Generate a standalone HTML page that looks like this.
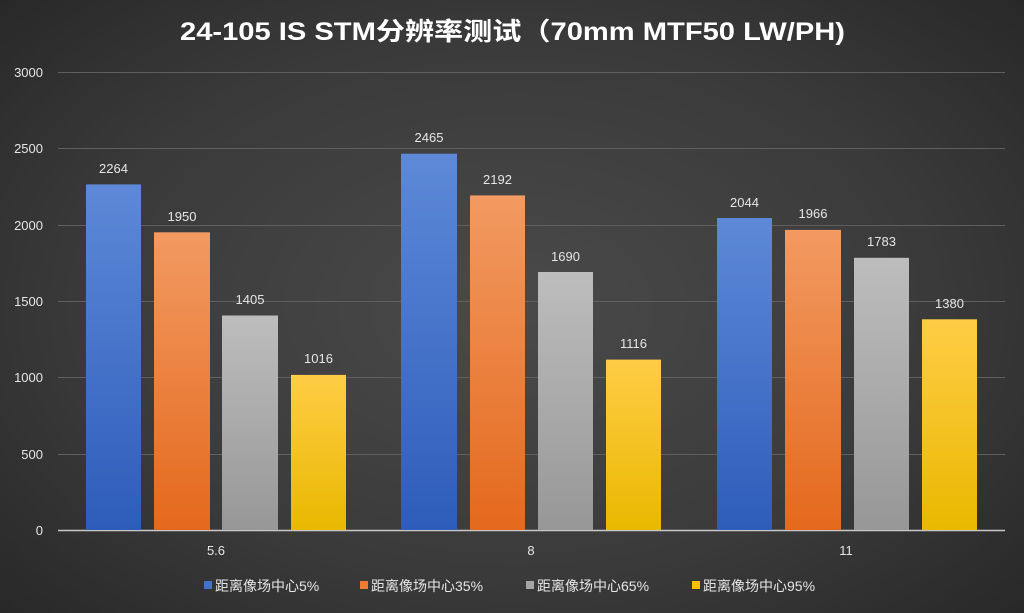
<!DOCTYPE html>
<html><head><meta charset="utf-8"><style>
html,body{margin:0;padding:0}
body{width:1024px;height:613px;overflow:hidden;background:radial-gradient(ellipse 75% 80% at 50% 50%,#4a4a4a 0%,#3a3a3a 55%,#242424 100%);font-family:"Liberation Sans","Noto Sans CJK SC",sans-serif;position:relative}
</style></head><body>
<svg width="1024" height="613" style="position:absolute;left:0;top:0" font-family="Liberation Sans, Noto Sans CJK SC, sans-serif">
<defs>
<linearGradient id="gb" x1="0" y1="0" x2="0" y2="1"><stop offset="0" stop-color="#5e89d8"/><stop offset="1" stop-color="#2e5cba"/></linearGradient>
<linearGradient id="go" x1="0" y1="0" x2="0" y2="1"><stop offset="0" stop-color="#f29a62"/><stop offset="1" stop-color="#e4691d"/></linearGradient>
<linearGradient id="gg" x1="0" y1="0" x2="0" y2="1"><stop offset="0" stop-color="#bdbdbd"/><stop offset="1" stop-color="#979797"/></linearGradient>
<linearGradient id="gy" x1="0" y1="0" x2="0" y2="1"><stop offset="0" stop-color="#ffcd45"/><stop offset="1" stop-color="#e9b800"/></linearGradient>
</defs>
<text x="180" y="40" textLength="665" lengthAdjust="spacingAndGlyphs" font-size="25" font-weight="bold" fill="#fff">24-105 IS STM分辨率测试（70mm MTF50 LW/PH)</text>
<g stroke="#5f5f5f" stroke-width="1">
<line x1="58" x2="1005" y1="72.5" y2="72.5"/><line x1="58" x2="1005" y1="148.5" y2="148.5"/><line x1="58" x2="1005" y1="225.5" y2="225.5"/><line x1="58" x2="1005" y1="301.5" y2="301.5"/><line x1="58" x2="1005" y1="377.5" y2="377.5"/><line x1="58" x2="1005" y1="454.5" y2="454.5"/>
</g>
<g fill="#e6e6e6" font-size="13" text-anchor="end">
<text x="43" y="77">3000</text><text x="43" y="153">2500</text><text x="43" y="230">2000</text><text x="43" y="306">1500</text><text x="43" y="382">1000</text><text x="43" y="459">500</text><text x="43" y="535">0</text>
</g>
<line x1="58" x2="1005" y1="530.5" y2="530.5" stroke="#c8c8c8" stroke-width="1.5"/>
<g fill="#e6e6e6" font-size="13" text-anchor="middle">
<text x="216" y="555">5.6</text><text x="531" y="555">8</text><text x="846" y="555">11</text>
</g>
<g font-size="14" fill="#e6e6e6">
<rect x="204" y="581" width="8" height="8" fill="#4472c4"/><text x="215" y="591">距离像场中心5%</text>
<rect x="360" y="581" width="8" height="8" fill="#ed7d31"/><text x="371" y="591">距离像场中心35%</text>
<rect x="526" y="581" width="8" height="8" fill="#a5a5a5"/><text x="537" y="591">距离像场中心65%</text>
<rect x="692" y="581" width="8" height="8" fill="#ffc000"/><text x="703" y="591">距离像场中心95%</text>
</g>
<g font-size="13" fill="#e6e6e6" text-anchor="middle">
<rect x="86" y="184.4" width="55" height="345.6" fill="url(#gb)"/><text x="113.5" y="173">2264</text>
<rect x="154" y="232.3" width="56" height="297.7" fill="url(#go)"/><text x="182" y="221">1950</text>
<rect x="222" y="315.5" width="56" height="214.5" fill="url(#gg)"/><text x="250" y="304">1405</text>
<rect x="291" y="374.9" width="55" height="155.1" fill="url(#gy)"/><text x="318.5" y="363">1016</text>
<rect x="401" y="153.7" width="56" height="376.3" fill="url(#gb)"/><text x="429" y="142">2465</text>
<rect x="470" y="195.4" width="55" height="334.6" fill="url(#go)"/><text x="497.5" y="184">2192</text>
<rect x="538" y="272" width="55" height="258" fill="url(#gg)"/><text x="565.5" y="261">1690</text>
<rect x="606" y="359.6" width="55" height="170.4" fill="url(#gy)"/><text x="633.5" y="348">1116</text>
<rect x="717" y="218" width="55" height="312" fill="url(#gb)"/><text x="744.5" y="207">2044</text>
<rect x="785" y="229.9" width="56" height="300.1" fill="url(#go)"/><text x="813" y="218">1966</text>
<rect x="854" y="257.8" width="55" height="272.2" fill="url(#gg)"/><text x="881.5" y="246">1783</text>
<rect x="922" y="319.3" width="55" height="210.7" fill="url(#gy)"/><text x="949.5" y="308">1380</text>
</g>
</svg>
</body></html>
